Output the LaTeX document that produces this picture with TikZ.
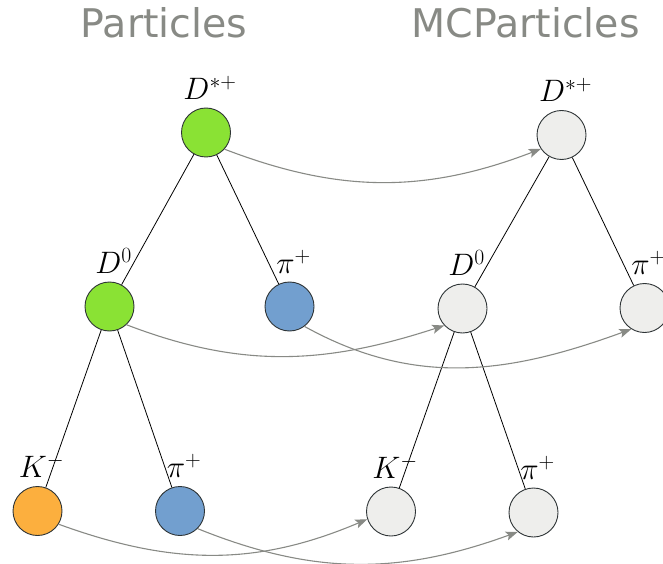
\RequirePackage{fix-cm}
\documentclass[tikz,border=0pt]{standalone}
\usepackage{fontspec}
\newfontfamily\titlefont{DejaVu Sans}
\usetikzlibrary{arrows.meta}
\definecolor{pgreen}{HTML}{8AE234}
\definecolor{pblue}{HTML}{729FCF}
\definecolor{porange}{HTML}{FCAF3E}
\definecolor{pgray}{HTML}{EEEEEC}
\definecolor{tgray}{HTML}{888A85}
\definecolor{edgecol}{HTML}{2E3436}
\begin{document}
\begin{tikzpicture}[x=1pt,y=1pt,
  part/.style={circle,draw=edgecol,line width=0.9pt,minimum size=49pt,inner sep=0pt},
  lab/.style={font=\fontsize{31}{36}\selectfont,inner sep=0pt,label distance=8pt,xshift=4pt},
  tree/.style={draw=black,line width=0.8pt},
  match/.style={draw=tgray,line width=1.1pt,-{Stealth[length=12pt,width=9pt,inset=2.5pt]}},
  title/.style={font=\titlefont\fontsize{39.5}{44}\selectfont,text=tgray,anchor=base,inner sep=0pt}]
\useasboundingbox (0,0) rectangle (663,563);
\node[title] (t1) at (164,525) {Particles};
\node[title] (t2) at (525.5,525) {MCParticles};
% reconstructed particles
\node[part,fill=pgreen,label={[lab]above:$D^{*+}$}] (Ds) at (206,430.5) {};
\node[part,fill=pgreen,label={[lab]above:$D^{0}$}] (D0) at (109.5,256.5) {};
\node[part,fill=pblue,label={[lab]above:$\pi^{+}$}] (pi1) at (289.5,256.5) {};
\node[part,fill=porange,label={[lab]above:$K^{-}$}] (K) at (37.5,52) {};
\node[part,fill=pblue,label={[lab]above:$\pi^{+}$}] (pi2) at (180,52) {};
% MC particles
\node[part,fill=pgray,label={[lab]above:$D^{*+}$}] (mDs) at (561.5,428) {};
\node[part,fill=pgray,label={[lab]above:$D^{0}$}] (mD0) at (462.5,254.5) {};
\node[part,fill=pgray,label={[lab]above:$\pi^{+}$}] (mpi1) at (644.5,255) {};
\node[part,fill=pgray,label={[lab]above:$K^{-}$}] (mK) at (391,51.5) {};
\node[part,fill=pgray,label={[lab]above:$\pi^{+}$}] (mpi2) at (533.5,50.5) {};
% decay trees
\draw[tree] (Ds) -- (D0);
\draw[tree] (Ds) -- (pi1);
\draw[tree] (D0) -- (K);
\draw[tree] (D0) -- (pi2);
\draw[tree] (mDs) -- (mD0);
\draw[tree] (mDs) -- (mpi1);
\draw[tree] (mD0) -- (mK);
\draw[tree] (mD0) -- (mpi2);
% matching arrows
\draw[match] (Ds.-42) to[out=-21,in=201] (mDs.214);
\draw[match] (D0.-47) to[out=-21,in=198] (mD0.223);
\draw[match] (pi1.-53) to[out=-29,in=200] (mpi1.238);
\draw[match] (K.-32) to[out=-20,in=203] (mK.198);
\draw[match] (pi2.-45) to[out=-22,in=200] (mpi2.231);
\end{tikzpicture}
\end{document}
